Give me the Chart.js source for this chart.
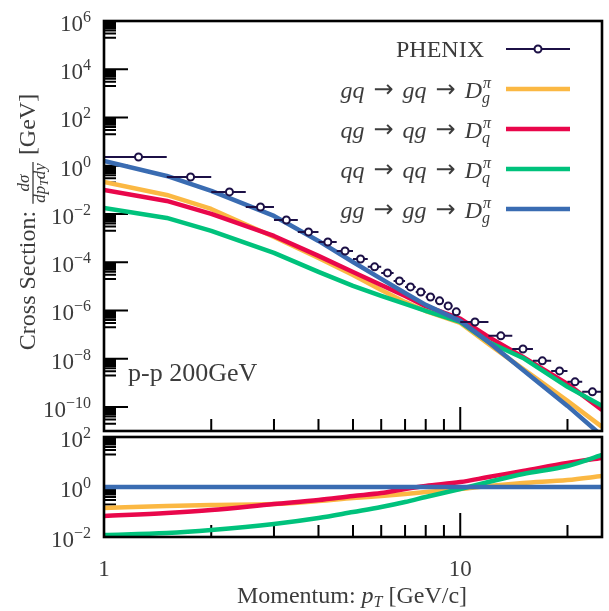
<!DOCTYPE html>
<html>
<head>
<meta charset="utf-8">
<script src="https://cdn.jsdelivr.net/npm/chart.js@4.4.1/dist/chart.umd.min.js"></script>
<style>
  html, body { margin: 0; padding: 0; background: #fff; }
  #wrap { position: relative; width: 609px; height: 611px; }
  #wrap canvas { position: absolute; left: 0; top: 0; }
</style>
</head>
<body>
<div id="wrap">
  <canvas id="main" width="609" height="611"></canvas>
  <canvas id="ratio" width="609" height="611"></canvas>
</div>
<script>
// PHENIX pi0 points (bin centre, bin edges, cross section)
const phenixPt     = [1.25, 1.75, 2.25, 2.75, 3.25, 3.75, 4.25, 4.75, 5.25, 5.75, 6.25, 6.75, 7.25, 7.75, 8.25, 8.75, 9.25, 9.75, 11, 13, 15, 17, 19, 21, 23.5];
const phenixPtLow  = [1.0, 1.5, 2.0, 2.5, 3.0, 3.5, 4.0, 4.5, 5.0, 5.5, 6.0, 6.5, 7.0, 7.5, 8.0, 8.5, 9.0, 9.5, 10, 12, 14, 16, 18, 20, 22];
const phenixPtHigh = [1.5, 2.0, 2.5, 3.0, 3.5, 4.0, 4.5, 5.0, 5.5, 6.0, 6.5, 7.0, 7.5, 8.0, 8.5, 9.0, 9.5, 10.0, 12, 14, 16, 18, 20, 22, 25];
const phenixXsec   = [2.3, 0.342, 0.082, 0.0195, 5.6e-3, 1.8e-3, 6.9e-4, 2.9e-4, 1.36e-4, 6.4e-5, 3.6e-5, 1.67e-5, 9.4e-6, 5.8e-6, 3.6e-6, 2.5e-6, 1.54e-6, 8.7e-7, 3.3e-7, 8.8e-8, 2.5e-8, 8.1e-9, 3.1e-9, 1.09e-9, 4.2e-10];

// model curves, main panel
const modelPt = [1, 1.5, 2, 3, 4, 5, 6, 7, 8, 10, 12, 15, 20, 25];
const gqXsec = [0.212, 0.0614, 0.0161, 1.11e-3, 1.5e-4, 2.96e-5, 7.08e-6, 2.25e-6, 9.4e-7, 3.03e-7, 4.08e-8, 3.76e-9, 1.77e-10, 1.48e-11];
const qgXsec = [0.0989, 0.0346, 0.01, 1.22e-3, 1.82e-4, 3.94e-5, 1.14e-5, 3.99e-6, 1.5e-6, 4.6e-7, 7.98e-8, 1.18e-8, 8.97e-10, 7.5e-11];
const qqXsec = [0.01774, 6.82e-3, 1.97e-3, 2.42e-4, 3.94e-5, 1.04e-5, 3.99e-6, 1.86e-6, 9.5e-7, 3.33e-7, 4.94e-8, 1.07e-8, 6.75e-10, 1.1e-10];
const ggXsec = [1.57, 0.376, 0.0897, 8.26e-3, 7.6e-4, 1.02e-4, 2.02e-5, 5.3e-6, 1.69e-6, 3.67e-7, 4.94e-8, 3.42e-9, 1.1e-10, 6.3e-12];

// ratio panel (each channel / gg)
const ratioPt = [1, 1.5, 2, 3, 4, 5, 6, 7, 8, 10, 12, 15, 20, 25];
const gqRatio = [0.145, 0.174, 0.191, 0.209, 0.275, 0.363, 0.437, 0.525, 0.631, 0.832, 1.10, 1.45, 1.91, 2.75];
const qgRatio = [0.0692, 0.0912, 0.120, 0.209, 0.302, 0.437, 0.575, 0.832, 1.10, 1.58, 2.51, 4.37, 9.12, 14.5];
const qqRatio = [0.0120, 0.0145, 0.0191, 0.0331, 0.0575, 0.100, 0.158, 0.251, 0.398, 0.832, 1.58, 3.31, 6.92, 19.05];
const ggRatio = [1, 1, 1, 1, 1, 1, 1, 1, 1, 1, 1, 1, 1, 1];

// axes
const mainYExps  = [6, 4, 2, 0, -2, -4, -6, -8, -10];
const ratioYExps = [2, 0, -2];
const xMajorTicks = [1, 10];
const xMinorTicks = [2, 3, 4, 5, 6, 7, 8, 9, 20];
const xTickLabels = ['1', '10'];

// legend
const legendProcess = ['gq \u2192 gq \u2192 ', 'qg \u2192 qg \u2192 ', 'qq \u2192 qq \u2192 ', 'gg \u2192 gg \u2192 '];
const legendFrag = ['g', 'q', 'q', 'g'];

const NAVY = '#1c1046';
const YELLOW = '#fbb843';
const RED = '#e9074b';
const GREEN = '#00c27c';
const BLUE = '#3a6cb2';
const INK = '#3c3c3c';
const SERIF = '"Liberation Serif", "DejaVu Serif", serif';

function font(size, italic, fam) {
  return (italic ? 'italic ' : '') + size + 'px ' + (fam || SERIF);
}

// draws a row of text runs; a run may carry a stacked sup/sub pair
function drawRuns(ctx, runs, x, y, align) {
  let w = 0;
  runs.forEach(r => {
    if (r.sup !== undefined) {
      ctx.font = font(r.size, true);
      r.w = Math.max(ctx.measureText(r.sup).width, ctx.measureText(r.sub).width);
    } else {
      ctx.font = font(r.size, r.it, r.fam);
      r.w = ctx.measureText(r.t).width;
    }
    w += r.w + (r.gap || 0) * 2;
  });
  let cx = align === 'right' ? x - w : align === 'center' ? x - w / 2 : x;
  runs.forEach(r => {
    cx += r.gap || 0;
    if (r.sup !== undefined) {
      ctx.font = font(r.size, true);
      ctx.fillText(r.sup, cx + 1, y - 10);
      ctx.fillText(r.sub, cx, y + 5);
    } else {
      ctx.font = font(r.size, r.it, r.fam);
      ctx.fillText(r.t, cx, y + (r.dy || 0));
    }
    cx += r.w + (r.gap || 0);
  });
  return w;
}

function expLabel(e) {
  return [{ t: '10', size: 23 }, { t: e < 0 ? '\u2212' + (-e) : String(e), size: 16, dy: -9 }];
}

// inward tick marks, black frame and tick labels
function axisDecor(yExps, showXLabels) {
  return {
    id: 'axisDecor',
    beforeDatasetsDraw(chart) {
      const { ctx, chartArea: a, scales: { x, y } } = chart;
      ctx.save();
      ctx.strokeStyle = '#000';
      ctx.lineWidth = 2;
      ctx.beginPath();
      const xt = (v, len) => {
        const px = x.getPixelForValue(v);
        if (px <= a.left + 1 || px >= a.right - 1) return;
        ctx.moveTo(px, a.bottom); ctx.lineTo(px, a.bottom - len);
      };
      const yt = (v, len) => {
        const py = y.getPixelForValue(v);
        if (py <= a.top + 1 || py >= a.bottom - 1) return;
        ctx.moveTo(a.left, py); ctx.lineTo(a.left + len, py);
      };
      xMajorTicks.forEach(v => xt(v, 24));
      xMinorTicks.forEach(v => xt(v, 12));
      yExps.forEach(e => {
        yt(Math.pow(10, e), 24);
        for (let m = 2; m <= 9; m++) yt(m * Math.pow(10, e - 1), 12);
      });
      ctx.stroke();
      ctx.restore();
    },
    afterDatasetsDraw(chart) {
      const { ctx, chartArea: a } = chart;
      ctx.save();
      ctx.strokeStyle = '#000';
      ctx.lineWidth = 2.6;
      ctx.strokeRect(a.left, a.top, a.right - a.left, a.bottom - a.top);
      ctx.restore();
    },
    afterDraw(chart) {
      const { ctx, scales: { x, y } } = chart;
      ctx.save();
      ctx.fillStyle = INK;
      ctx.textBaseline = 'alphabetic';
      yExps.forEach(e => {
        const py = y.getPixelForValue(Math.pow(10, e));
        drawRuns(ctx, expLabel(e), 91, py + 10, 'right');
      });
      if (showXLabels) {
        xMajorTicks.forEach((v, i) => {
          drawRuns(ctx, [{ t: xTickLabels[i], size: 23 }], x.getPixelForValue(v), 576, 'center');
        });
        drawRuns(ctx, [
          { t: 'Momentum: ', size: 24 },
          { t: 'p', size: 24, it: true },
          { t: 'T', size: 16, it: true, dy: 4 },
          { t: ' [GeV/c]', size: 24 }
        ], 352, 603, 'center');
      }
      ctx.restore();
    }
  };
}

// horizontal pT bin bars, drawn just under the PHENIX markers
const errorBars = {
  id: 'errorBars',
  beforeDatasetDraw(chart, args) {
    if (args.index !== 0) return;
    const { ctx, chartArea: a, scales: { x, y } } = chart;
    ctx.save();
    ctx.beginPath();
    ctx.rect(a.left, a.top, a.right - a.left, a.bottom - a.top);
    ctx.clip();
    ctx.strokeStyle = NAVY;
    ctx.lineWidth = 2;
    ctx.beginPath();
    phenixPt.forEach((p, i) => {
      const py = y.getPixelForValue(phenixXsec[i]);
      ctx.moveTo(x.getPixelForValue(phenixPtLow[i]), py);
      ctx.lineTo(x.getPixelForValue(phenixPtHigh[i]), py);
    });
    ctx.stroke();
    ctx.restore();
  }
};

// legend, y title and the collision label
const mainText = {
  id: 'mainText',
  afterDraw(chart) {
    const ctx = chart.ctx;
    ctx.save();
    ctx.fillStyle = INK;
    ctx.textBaseline = 'alphabetic';

    const rows = [49, 89, 129, 169, 209];
    const lineX0 = 506, lineX1 = 570;
    drawRuns(ctx, [{ t: 'PHENIX', size: 24 }], 484, rows[0] + 8, 'right');
    ctx.strokeStyle = NAVY; ctx.lineWidth = 2;
    ctx.beginPath(); ctx.moveTo(lineX0, rows[0]); ctx.lineTo(lineX1, rows[0]); ctx.stroke();
    ctx.fillStyle = '#fff';
    ctx.beginPath(); ctx.arc((lineX0 + lineX1) / 2, rows[0], 3.5, 0, Math.PI * 2); ctx.fill(); ctx.stroke();
    ctx.fillStyle = INK;

    const colors = [YELLOW, RED, GREEN, BLUE];
    legendProcess.forEach((proc, i) => {
      const ry = rows[i + 1];
      const runs = [];
      proc.split(' ').forEach(p => {
        if (p === '') return;
        if (p === '\u2192') runs.push({ t: '\u2192', size: 24, fam: '"DejaVu Sans"', gap: 9, dy: -1 });
        else runs.push({ t: p, size: 24, it: true });
      });
      runs.push({ t: 'D', size: 24, it: true });
      runs.push({ sup: '\u03c0', sub: legendFrag[i], size: 16 });
      drawRuns(ctx, runs, 490, ry + 9, 'right');
      ctx.strokeStyle = colors[i]; ctx.lineWidth = 4.5;
      ctx.beginPath(); ctx.moveTo(lineX0, ry); ctx.lineTo(lineX1, ry); ctx.stroke();
    });

    drawRuns(ctx, [{ t: 'p-p 200GeV', size: 26 }], 128, 381, 'left');

    // rotated y title with the d\u03c3/dp_T dy fraction
    ctx.translate(0, 222);
    ctx.rotate(-Math.PI / 2);
    ctx.font = font(24);
    const w1 = ctx.measureText('Cross Section: ').width;
    const w3 = ctx.measureText(' [GeV]').width;
    ctx.font = font(17, true);
    const wNum = ctx.measureText('d\u03c3').width;
    const den = [{ t: 'dp', size: 17, it: true }, { t: 'T', size: 12, it: true, dy: 3 }, { t: 'dy', size: 17, it: true }];
    const wDp = ctx.measureText('dp').width + ctx.measureText('dy').width;
    ctx.font = font(12, true);
    const wDen = wDp + ctx.measureText('T').width;
    const wFrac = Math.max(wNum, wDen) + 4;
    let u = -(w1 + wFrac + w3) / 2;
    ctx.font = font(24);
    ctx.fillText('Cross Section: ', u, 35);
    u += w1;
    ctx.font = font(17, true);
    ctx.fillText('d\u03c3', u + (wFrac - wNum) / 2, 29);
    ctx.strokeStyle = INK; ctx.lineWidth = 1.3;
    ctx.beginPath(); ctx.moveTo(u + 1, 33); ctx.lineTo(u + wFrac - 1, 33); ctx.stroke();
    drawRuns(ctx, den, u + (wFrac - wDen) / 2, 45, 'left');
    u += wFrac;
    ctx.font = font(24);
    ctx.fillText(' [GeV]', u, 35);
    ctx.restore();
  }
};

function curve(xs, ys, color, smooth) {
  return {
    data: xs.map((x, i) => ({ x: x, y: ys[i] })),
    borderColor: color,
    borderWidth: 4.5,
    pointRadius: 0,
    tension: 0,
    cubicInterpolationMode: smooth ? 'monotone' : 'default',
    borderJoinStyle: 'round',
    fill: false,
    clip: 0
  };
}

const baseOptions = (pad, yMin, yMax) => ({
  responsive: false,
  animation: false,
  devicePixelRatio: 1,
  layout: { padding: pad },
  plugins: { legend: { display: false }, tooltip: { enabled: false } },
  scales: {
    x: { type: 'logarithmic', min: 1, max: 25, display: false },
    y: { type: 'logarithmic', min: yMin, max: yMax, display: false }
  }
});

new Chart(document.getElementById('main'), {
  type: 'line',
  data: {
    datasets: [
      {
        data: phenixPt.map((x, i) => ({ x: x, y: phenixXsec[i] })),
        showLine: false,
        pointRadius: 3.5,
        pointBorderWidth: 2,
        pointBackgroundColor: '#fff',
        pointBorderColor: NAVY,
        borderColor: NAVY
      },
      curve(modelPt, ggXsec, BLUE, false),
      curve(modelPt, qqXsec, GREEN, false),
      curve(modelPt, qgXsec, RED, false),
      curve(modelPt, gqXsec, YELLOW, false)
    ]
  },
  options: baseOptions({ left: 104, top: 21, right: 7, bottom: 180 }, 1e-11, 1e6),
  plugins: [axisDecor(mainYExps, false), errorBars, mainText]
});

new Chart(document.getElementById('ratio'), {
  type: 'line',
  data: {
    datasets: [
      curve(ratioPt, ggRatio, BLUE, true),
      curve(ratioPt, qqRatio, GREEN, true),
      curve(ratioPt, qgRatio, RED, true),
      curve(ratioPt, gqRatio, YELLOW, true)
    ]
  },
  options: baseOptions({ left: 104, top: 437, right: 7, bottom: 74 }, 1e-2, 1e2),
  plugins: [axisDecor(ratioYExps, true)]
});
</script>
</body>
</html>
